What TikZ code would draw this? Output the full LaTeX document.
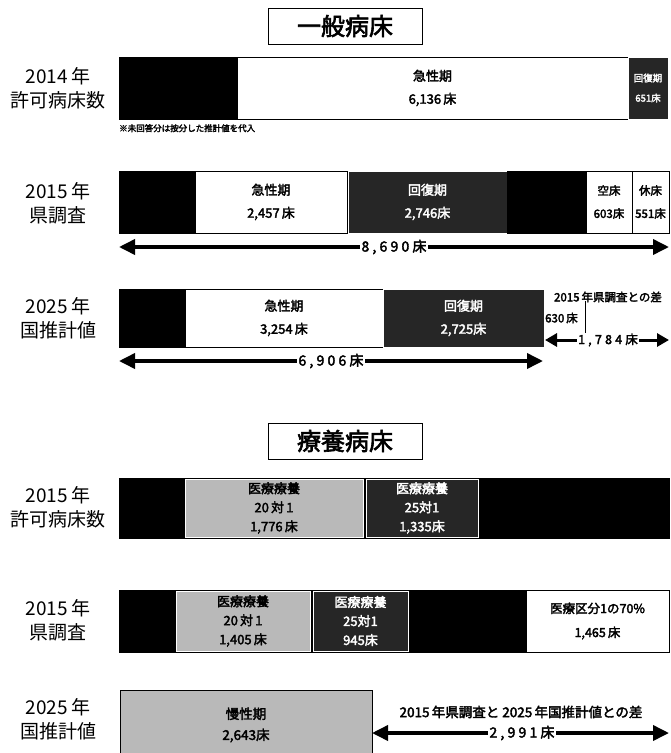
\documentclass[tikz,border=0pt]{standalone}
\usepackage{fontspec}
\setmainfont{Noto Sans CJK JP}
\newfontfamily\jb{Noto Sans CJK JP}[FakeBold=2.6]
\usetikzlibrary{arrows.meta}
\newcommand\dsp{\hspace{3.2pt}}
\tikzset{
  seg/.style={anchor=north west, inner sep=0pt, outer sep=0pt, line width=0.8pt, align=center},
  blk/.style={seg, fill=black, draw=black},
  wht/.style={seg, fill=white, draw=black, font=\jb\fontsize{13}{23}\selectfont},
  drk/.style={seg, fill=black!85, draw=white, text=white, font=\jb\fontsize{13}{23}\selectfont},
  lgt/.style={seg, fill=gray!55, draw=white, text=black, font=\jb\fontsize{13}{19}\selectfont},
  rowlab/.style={align=center, font=\fontsize{19}{24}\selectfont},
  ttl/.style={draw=black, line width=0.9pt, inner sep=0pt, font=\jb\fontsize{24}{24}\selectfont},
  dimarr/.style={line width=3.6pt, {Triangle[length=16pt,width=15pt]}-{Triangle[length=16pt,width=15pt]}},
  dimlab/.style={fill=white, inner sep=1.5pt, font=\jb\fontsize{14}{15}\selectfont},
  small/.style={inner sep=0pt, font=\jb\fontsize{11.5}{13}\selectfont}
}
\begin{document}
\begin{tikzpicture}[x=1pt,y=-1pt]
\useasboundingbox (0,0) rectangle (670,753);
\fill[white] (0,0) rectangle (670,753);

% ---------- 一般病床 ----------
\node[ttl, minimum width=154pt, minimum height=36pt] (t1) at (345,26) {一般病床};

% 2014
\node[rowlab] (l1) at (58,88) {2014\,年\\許可病床数};
\node[blk, minimum width=118pt, minimum height=62pt] (r1a) at (119,57) {};
\node[wht, minimum width=391pt, minimum height=62pt] (r1b) at (237,57) {急性期\\6,136\,床};
\node[drk, minimum width=40pt, minimum height=62pt, font=\jb\fontsize{9.5}{20}\selectfont] (r1c) at (628,57) {回復期\\651床};
\node[anchor=north west, inner sep=0pt, font=\jb\fontsize{8.5}{9}\selectfont] (n1) at (119,124) {※未回答分は按分した推計値を代入};

% 2015 県調査
\node[rowlab] (l2) at (58,203) {2015\,年\\県調査};
\node[blk, minimum width=76pt, minimum height=62pt] (r2a) at (119,171) {};
\node[wht, minimum width=152pt, minimum height=62pt] (r2b) at (195,171) {急性期\\2,457\,床};
\node[drk, minimum width=159pt, minimum height=62pt] (r2c) at (348,171) {回復期\\2,746床};
\node[blk, minimum width=79pt, minimum height=62pt] (r2d) at (507,171) {};
\node[wht, minimum width=46pt, minimum height=62pt, font=\jb\fontsize{11.5}{23}\selectfont] (r2e) at (586,171) {空床\\603床};
\node[wht, minimum width=37pt, minimum height=62pt, font=\jb\fontsize{11.5}{23}\selectfont] (r2f) at (632,171) {休床\\551床};
\coordinate (a2l) at (119,247);
\coordinate (a2r) at (669,247);
\draw[dimarr] (a2l) -- (a2r);
\node[dimlab] (d2) at (394,247) {8\dsp,\dsp6\dsp9\dsp0\dsp{}床};

% 2025 国推計値
\node[rowlab] (l3) at (58,318) {2025\,年\\国推計値};
\node[blk, minimum width=66pt, minimum height=58pt] (r3a) at (119,289) {};
\node[wht, minimum width=198pt, minimum height=58pt] (r3b) at (185,289) {急性期\\3,254\,床};
\node[drk, minimum width=161pt, minimum height=58pt] (r3c) at (383,289) {回復期\\2,725床};
\coordinate (a3l) at (119,361);
\coordinate (a3r) at (543,361);
\draw[dimarr] (a3l) -- (a3r);
\node[dimlab] (d3) at (331,361) {6\dsp,\dsp9\dsp0\dsp6\dsp{}床};
\node[small] (s3) at (608,297) {2015\,年県調査との差};
\node[small, anchor=west] (s3b) at (545,318) {630\,床};
\coordinate (v3t) at (585,301);
\coordinate (v3b) at (585,333);
\draw[line width=1pt] (v3t) -- (v3b);
\coordinate (b3l) at (545,340);
\coordinate (b3r) at (669,340);
\draw[line width=3pt, {Triangle[length=12pt,width=13pt]}-{Triangle[length=12pt,width=13pt]}] (b3l) -- (b3r);
\node[dimlab, font=\jb\fontsize{12.5}{13}\selectfont, inner sep=1pt] (d3b) at (608,340) {1\dsp,\dsp7\dsp8\dsp4\dsp{}床};

% ---------- 療養病床 ----------
\node[ttl, minimum width=154pt, minimum height=36pt] (t2) at (345,441) {療養病床};

% 2015 許可病床数
\node[rowlab] (l4) at (58,507) {2015\,年\\許可病床数};
\node[blk, minimum width=550pt, minimum height=60pt] (r4) at (119,478) {};
\node[lgt, minimum width=178pt, minimum height=58pt] (r4b) at (185,479) {医療療養\\20\,対\,1\\1,776\,床};
\node[drk, minimum width=112pt, minimum height=58pt, font=\jb\fontsize{13}{19}\selectfont] (r4c) at (366,479) {医療療養\\25対1\\1,335床};

% 2015 県調査
\node[rowlab] (l5) at (58,620) {2015\,年\\県調査};
\node[blk, minimum width=407pt, minimum height=62pt] (r5) at (119,590) {};
\node[lgt, minimum width=134pt, minimum height=60pt] (r5b) at (176,591) {医療療養\\20\,対\,1\\1,405\,床};
\node[drk, minimum width=95pt, minimum height=60pt, font=\jb\fontsize{13}{19}\selectfont] (r5c) at (313,591) {医療療養\\25対1\\945床};
\node[wht, minimum width=143pt, minimum height=62pt, font=\jb\fontsize{12.5}{24}\selectfont] (r5d) at (526,590) {医療区分1の70\%\\1,465\,床};

% 2025 国推計値
\node[rowlab] (l6) at (58,719) {2025\,年\\国推計値};
\node[lgt, draw=black, minimum width=252pt, minimum height=70pt, font=\jb\fontsize{13.5}{21}\selectfont] (r6) at (120,690) {慢性期\\2,643床};
\node[small, font=\jb\fontsize{13.5}{14}\selectfont] (s6) at (521,712) {2015\,年県調査と 2025\,年国推計値との差};
\coordinate (a6l) at (372,733);
\coordinate (a6r) at (669,733);
\draw[dimarr] (a6l) -- (a6r);
\node[dimlab] (d6) at (522,733) {2\dsp,\dsp9\dsp9\dsp1\dsp{}床};
\end{tikzpicture}
\end{document}
